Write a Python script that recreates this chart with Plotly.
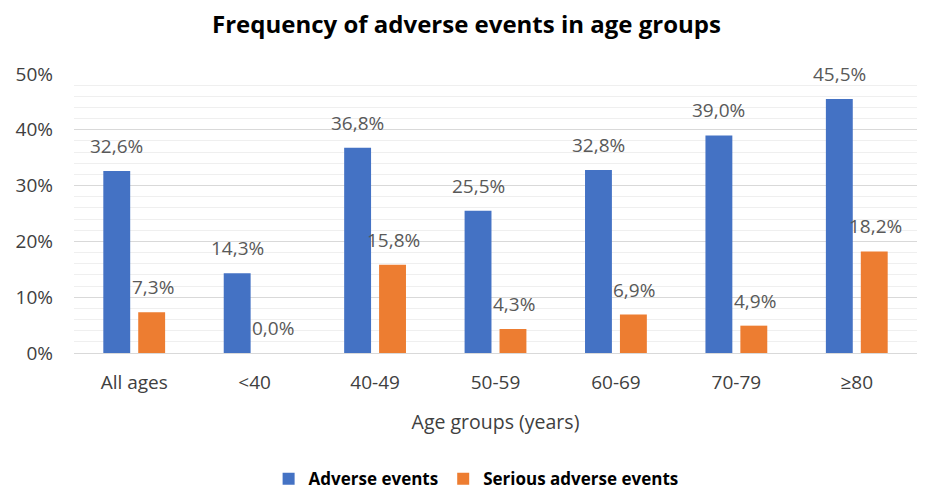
import plotly.graph_objects as go

categories = ["All ages", "<40", "40-49", "50-59", "60-69", "70-79", "≥80"]
adverse = [32.6, 14.3, 36.8, 25.5, 32.8, 39.0, 45.5]
serious = [7.3, 0.0, 15.8, 4.3, 6.9, 4.9, 18.2]
series_names = ["Adverse events", "Serious adverse events"]
y_ticks = [0, 10, 20, 30, 40, 50]
y_tick_labels = ["0%", "10%", "20%", "30%", "40%", "50%"]

colors = ["#4472C4", "#ED7D31"]
FONT = "Open Sans"
LABEL_COLOR = "#595959"
AXIS_COLOR = "#404040"

def fmt(v):
    return f"{v:.1f}%".replace(".", ",")

fig = go.Figure()
for name, vals, col in zip(series_names, [adverse, serious], colors):
    fig.add_trace(go.Bar(x=categories, y=vals, name=name, marker_color=col,
                         marker_line_width=0, hoverinfo="skip"))

annotations = []
for k, vals in enumerate([adverse, serious]):
    shift = -17.5 if k == 0 else 18.5
    for c, v in zip(categories, vals):
        annotations.append(dict(x=c, y=v, xref="x", yref="y", text=fmt(v),
                                showarrow=False, yanchor="bottom", xshift=shift,
                                yshift=10, font=dict(family=FONT, size=19, color=LABEL_COLOR)))

fig.update_layout(
    width=933, height=494,
    margin=dict(l=74, r=16, t=74, b=141, autoexpand=False),
    paper_bgcolor="white", plot_bgcolor="white",
    barmode="group", bargap=0.42, bargroupgap=0.23,
    title=dict(text="<b>Frequency of adverse events in age groups</b>",
               x=0.5, xanchor="center", y=0.95, yanchor="middle",
               font=dict(family=FONT, size=24, color="#000000")),
    xaxis=dict(tickfont=dict(family=FONT, size=19, color=AXIS_COLOR),
               ticklabelstandoff=12, automargin=False,
               title=dict(text="Age groups (years)", standoff=21,
                          font=dict(family=FONT, size=19.5, color=AXIS_COLOR)),
               showline=True, linecolor="#D9D9D9", linewidth=1, ticks=""),
    yaxis=dict(range=[0, 50], tickvals=y_ticks, ticktext=y_tick_labels,
               tickfont=dict(family=FONT, size=19, color=AXIS_COLOR),
               showgrid=True, gridcolor="#D9D9D9", gridwidth=1.3,
               minor=dict(dtick=2, showgrid=True, gridcolor="#EFEFEF", gridwidth=1),
               zeroline=False, ticks="", ticklabelstandoff=20, automargin=False),
    legend=dict(orientation="h", x=0.477, xanchor="center",
                yref="container", y=0.03, yanchor="middle",
                font=dict(family=FONT, size=17, color="#000000", weight="bold"),
                itemwidth=30, traceorder="normal"),
    annotations=annotations,
)

fig.write_html("out.html")
